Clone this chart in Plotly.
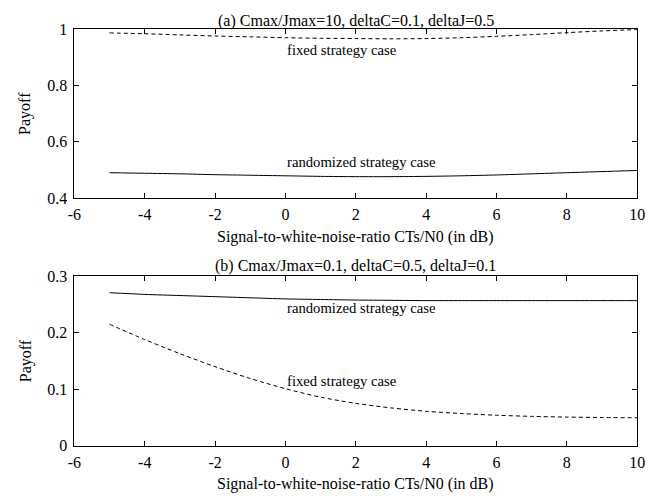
import plotly.graph_objects as go

# ---- data ----
snr_db = [-5, -4, -3, -2, -1, 0, 1, 2, 3, 4, 5, 6, 7, 8, 9, 10]

a_fixed = [0.986, 0.983, 0.979, 0.975, 0.972, 0.969, 0.967, 0.966, 0.965, 0.966,
           0.969, 0.974, 0.980, 0.987, 0.993, 0.998]
a_random = [0.490, 0.488, 0.486, 0.483, 0.481, 0.479, 0.477, 0.476, 0.476, 0.477,
            0.479, 0.482, 0.486, 0.490, 0.494, 0.498]

b_random = [0.271, 0.268, 0.266, 0.264, 0.262, 0.260, 0.259, 0.258, 0.2575, 0.257,
            0.257, 0.257, 0.257, 0.257, 0.257, 0.257]
b_fixed = [0.215, 0.188, 0.163, 0.140, 0.119, 0.101, 0.086, 0.075, 0.067, 0.061,
           0.057, 0.054, 0.052, 0.0507, 0.050, 0.0495]

x_ticks = [-6, -4, -2, 0, 2, 4, 6, 8, 10]
x_tick_text = ["-6", "-4", "-2", "0", "2", "4", "6", "8", "10"]
a_y_ticks = [0.4, 0.6, 0.8, 1.0]
a_y_text = ["0.4", "0.6", "0.8", "1"]
b_y_ticks = [0, 0.1, 0.2, 0.3]
b_y_text = ["0", "0.1", "0.2", "0.3"]

title_a = "(a) Cmax/Jmax=10, deltaC=0.1, deltaJ=0.5"
title_b = "(b) Cmax/Jmax=0.1, deltaC=0.5, deltaJ=0.1"
x_label = "Signal-to-white-noise-ratio CTs/N0 (in dB)"
y_label = "Payoff"
lbl_fixed = "fixed strategy case"
lbl_random = "randomized strategy case"

# ---- figure ----
W, H = 654, 504
FONT = "Liberation Serif"
FS = 16

def py(px):
    return 1 - px / H

def pxx(px):
    return px / W

fig = go.Figure()
line_fixed = dict(color="black", width=1, dash="4px,3px", shape="spline", smoothing=0.8)
line_rand = dict(color="black", width=1, shape="spline", smoothing=0.8)

fig.add_trace(go.Scatter(x=snr_db, y=a_fixed, mode="lines", line=line_fixed,
                         xaxis="x", yaxis="y", showlegend=False, hoverinfo="skip"))
fig.add_trace(go.Scatter(x=snr_db, y=a_random, mode="lines", line=line_rand,
                         xaxis="x", yaxis="y", showlegend=False, hoverinfo="skip"))
fig.add_trace(go.Scatter(x=snr_db, y=b_random, mode="lines", line=line_rand,
                         xaxis="x2", yaxis="y2", showlegend=False, hoverinfo="skip"))
fig.add_trace(go.Scatter(x=snr_db, y=b_fixed, mode="lines", line=line_fixed,
                         xaxis="x2", yaxis="y2", showlegend=False, hoverinfo="skip"))

x_dom = [pxx(69), pxx(645)]
axis_common = dict(showline=True, linecolor="black", linewidth=1, mirror="allticks",
                   ticks="inside", ticklen=5, tickcolor="black", tickwidth=1,
                   showgrid=False, zeroline=False,
                   tickfont=dict(family=FONT, size=FS, color="black"))

fig.update_layout(
    width=W, height=H,
    margin=dict(l=0, r=0, t=0, b=0),
    paper_bgcolor="white", plot_bgcolor="white",
    font=dict(family=FONT, size=FS, color="black"),
    xaxis=dict(domain=x_dom, anchor="y", range=[-6, 10], tickvals=x_ticks,
               ticktext=x_tick_text, ticklabelstandoff=2, **axis_common),
    yaxis=dict(domain=[py(196.7), py(21.7)], anchor="x", range=[0.4, 1.0],
               tickvals=a_y_ticks, ticktext=a_y_text, ticklabelstandoff=3, **axis_common),
    xaxis2=dict(domain=x_dom, anchor="y2", range=[-6, 10], tickvals=x_ticks,
                ticktext=x_tick_text, ticklabelstandoff=2, **axis_common),
    yaxis2=dict(domain=[py(453), py(277.7)], anchor="x2", range=[0, 0.3],
                tickvals=b_y_ticks, ticktext=b_y_text, ticklabelstandoff=3, **axis_common),
)

cx = pxx((69 + 645) / 2)
ann = []
# titles
ann.append(dict(text=title_a, x=cx, y=py(13), xref="paper", yref="paper",
                xanchor="center", yanchor="middle", showarrow=False,
                font=dict(family=FONT, size=FS)))
ann.append(dict(text=title_b, x=cx, y=py(267), xref="paper", yref="paper",
                xanchor="center", yanchor="middle", showarrow=False,
                font=dict(family=FONT, size=FS)))
# x labels
ann.append(dict(text=x_label, x=cx, y=py(237), xref="paper", yref="paper",
                xanchor="center", yanchor="middle", showarrow=False,
                font=dict(family=FONT, size=FS)))
ann.append(dict(text=x_label, x=cx, y=py(493), xref="paper", yref="paper",
                xanchor="center", yanchor="middle", showarrow=False,
                font=dict(family=FONT, size=FS)))
# y labels
ann.append(dict(text=y_label, x=pxx(19), y=py(109), xref="paper", yref="paper",
                xanchor="center", yanchor="middle", textangle=-90, showarrow=False,
                font=dict(family=FONT, size=FS)))
ann.append(dict(text=y_label, x=pxx(19), y=py(365), xref="paper", yref="paper",
                xanchor="center", yanchor="middle", textangle=-90, showarrow=False,
                font=dict(family=FONT, size=FS)))
# curve labels
lab_font = dict(family=FONT, size=14.7)
ann.append(dict(text=lbl_fixed, x=0, y=0.927, xref="x", yref="y",
                xanchor="left", yanchor="middle", showarrow=False, font=lab_font))
ann.append(dict(text=lbl_random, x=0, y=0.527, xref="x", yref="y",
                xanchor="left", yanchor="middle", showarrow=False, font=lab_font))
ann.append(dict(text=lbl_random, x=0, y=0.2445, xref="x2", yref="y2",
                xanchor="left", yanchor="middle", showarrow=False, font=lab_font))
ann.append(dict(text=lbl_fixed, x=0, y=0.114, xref="x2", yref="y2",
                xanchor="left", yanchor="middle", showarrow=False, font=lab_font))

fig.update_layout(annotations=ann)
fig.write_html(
    "out.html",
    config={"displayModeBar": False},
    post_script="document.body.style.margin='0';document.body.style.overflow='hidden';",
)
